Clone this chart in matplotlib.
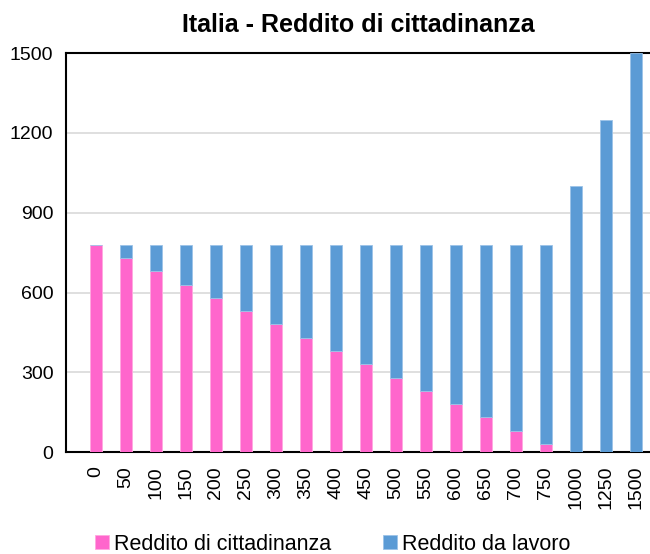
import matplotlib.pyplot as plt
import numpy as np

plt.rcParams['font.family'] = ['Liberation Sans', 'DejaVu Sans']

# dati
categorie = ['0', '50', '100', '150', '200', '250', '300', '350', '400', '450',
             '500', '550', '600', '650', '700', '750', '1000', '1250', '1500']
reddito_cittadinanza = [780, 730, 680, 630, 580, 530, 480, 430, 380, 330,
                        280, 230, 180, 130, 80, 30, 0, 0, 0]
reddito_lavoro = [0, 50, 100, 150, 200, 250, 300, 350, 400, 450,
                  500, 550, 600, 650, 700, 750, 1000, 1250, 1500]
yticks = [0, 300, 600, 900, 1200, 1500]

rosa = '#FF66CC'
blu = '#5B9BD5'

fig = plt.figure(figsize=(6.5, 5.54), dpi=100)
ax = fig.add_axes([0.1015, 0.184, 0.8985, 0.72])

x = np.arange(len(categorie))
ax.bar(x, reddito_cittadinanza, width=0.4, color=rosa, edgecolor='#FFA8E0',
       linewidth=0.6, label='Reddito di cittadinanza', zorder=3)
ax.bar(x, reddito_lavoro, width=0.4, bottom=reddito_cittadinanza, color=blu,
       edgecolor='#9CC3E8', linewidth=0.6, label='Reddito da lavoro', zorder=3)

ax.set_xlim(-1, 18.47)
ax.set_ylim(0, 1500)
ax.set_yticks(yticks)
ax.set_yticklabels([str(v) for v in yticks], fontsize=14)
ax.set_xticks(x)
ax.set_xticklabels(categorie, rotation=90, fontsize=14)
ax.tick_params(length=0)
ax.tick_params(axis='x', pad=10)
ax.tick_params(axis='y', pad=9)

ax.grid(axis='y', color='#D9D9D9', linewidth=1.2, zorder=0)
for s in ['left', 'bottom', 'top']:
    ax.spines[s].set_color('black')
    ax.spines[s].set_linewidth(1.5)
ax.spines['right'].set_visible(False)

ax.set_title('Italia - Reddito di cittadinanza', fontsize=18, fontweight='bold',
             pad=15, x=0.5)

fig.legend(loc='center', bbox_to_anchor=(0.512, 0.018), ncol=2,
           frameon=False, fontsize=15.5, handlelength=0.65, handleheight=0.65,
           handletextpad=0.25, columnspacing=2.4)

fig.savefig('out.png', dpi=100)
